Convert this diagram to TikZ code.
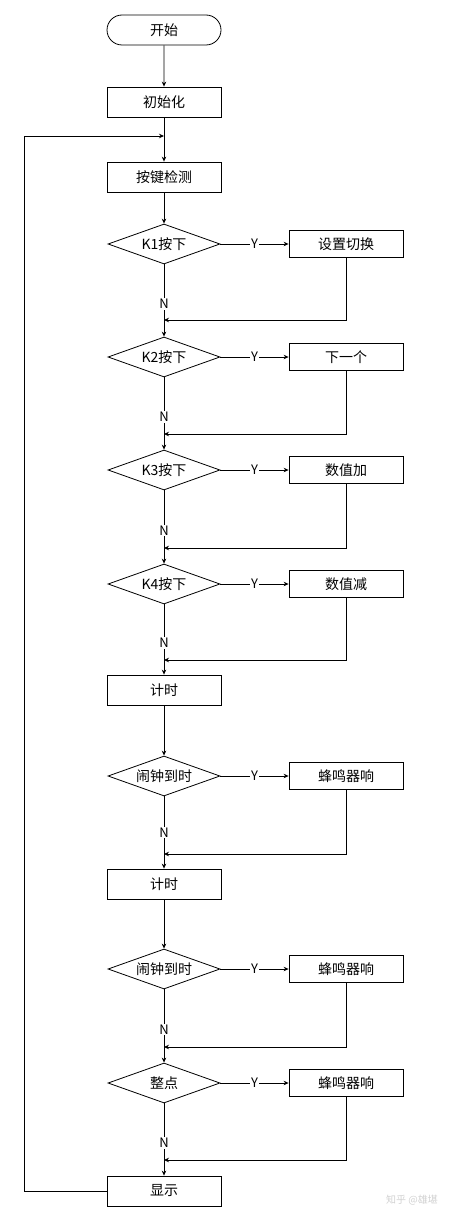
\documentclass[tikz,border=0pt]{standalone}
\usepackage{fontspec}
\setmainfont{Noto Sans CJK SC}
\usetikzlibrary{shapes.geometric,shapes.misc,arrows.meta}

\begin{document}
\begin{tikzpicture}[x=1pt,y=-1pt,line width=0.8pt,
    font=\fontsize{14pt}{16pt}\selectfont,
    >={Stealth[length=5pt,width=4.5pt]},
    term/.style={rounded rectangle,draw,minimum width=114pt,minimum height=30pt,inner sep=0pt},
    proc/.style={rectangle,draw,minimum width=114pt,minimum height=30pt,inner sep=0pt},
    side/.style={rectangle,draw,minimum width=114pt,minimum height=27pt,inner sep=0pt},
    dec/.style={diamond,draw,aspect=2.8,minimum width=112pt,minimum height=40pt,inner sep=0pt},
    lab/.style={fill=white,inner sep=1pt,font=\fontsize{13pt}{15pt}\selectfont}]

\useasboundingbox (0,0) rectangle (459,1220);

\node[term] (start) at (164,30) {开始};
\node[proc] (init) at (164,102) {初始化};
\coordinate (back) at (164,136);
\node[proc] (scan) at (164,177) {按键检测};

\node[dec] (k1) at (164,244) {K1按下};
\node[side] (s1) at (346,244) {设置切换};
\coordinate (m1) at (164,320);
\node[dec] (k2) at (164,357) {K2按下};
\node[side] (s2) at (346,357) {下一个};
\coordinate (m2) at (164,434);
\node[dec] (k3) at (164,470) {K3按下};
\node[side] (s3) at (346,470) {数值加};
\coordinate (m3) at (164,548);
\node[dec] (k4) at (164,584) {K4按下};
\node[side] (s4) at (346,584) {数值减};
\coordinate (m4) at (164,660);

\node[proc] (t1) at (164,690) {计时};
\node[dec] (a1) at (164,776) {闹钟到时};
\node[side] (b1) at (346,776) {蜂鸣器响};
\coordinate (m5) at (164,854);
\node[proc] (t2) at (164,884) {计时};
\node[dec] (a2) at (164,969) {闹钟到时};
\node[side] (b2) at (346,969) {蜂鸣器响};
\coordinate (m6) at (164,1047);
\node[dec] (hr) at (164,1083) {整点};
\node[side] (b3) at (346,1083) {蜂鸣器响};
\coordinate (m7) at (164,1160);
\node[proc] (disp) at (164,1191) {显示};

% main line
\draw[->] (start) -- (init);
\draw[->] (init) -- (scan);
\draw[->] (scan) -- (k1);
\draw[->] (k1) -- node[lab,pos=0.55] {N} (k2);
\draw[->] (k2) -- node[lab,pos=0.55] {N} (k3);
\draw[->] (k3) -- node[lab,pos=0.55] {N} (k4);
\draw[->] (k4) -- node[lab,pos=0.55] {N} (t1);
\draw[->] (t1) -- (a1);
\draw[->] (a1) -- node[lab,pos=0.5] {N} (t2);
\draw[->] (t2) -- (a2);
\draw[->] (a2) -- node[lab,pos=0.55] {N} (hr);
\draw[->] (hr) -- node[lab,pos=0.55] {N} (disp);

% Y branches
\foreach \d/\s/\m in {k1/s1/m1,k2/s2/m2,k3/s3/m3,k4/s4/m4,a1/b1/m5,a2/b2/m6,hr/b3/m7}{
  \draw[->] (\d) -- node[lab] {Y} (\s);
  \draw[->] (\s.south) |- (\m);
}

% back to key scan
\draw[->] (disp.west) -- (24,1191) -- (24,136) -- (back);

\node[text=black!18,font=\fontsize{10pt}{12pt}\selectfont] (mark) at (412,1200) {知乎 @雄堪};

\end{tikzpicture}
\end{document}
